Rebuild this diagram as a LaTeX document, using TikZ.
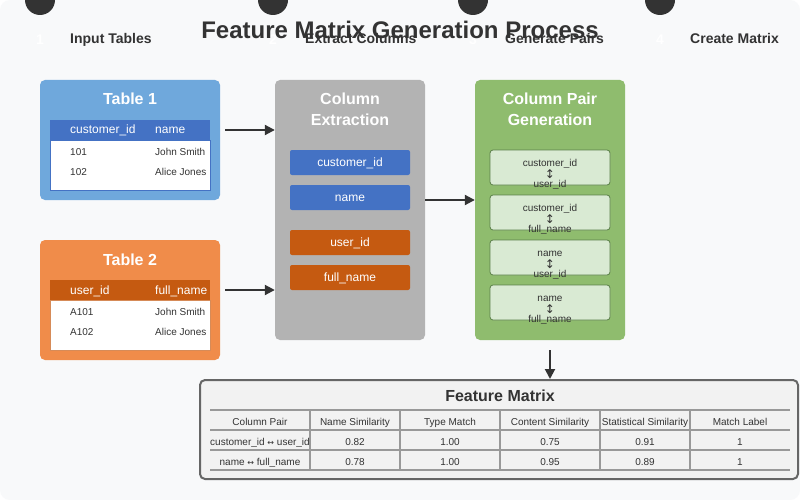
\documentclass[tikz,border=0pt]{standalone}
\usepackage{fontspec}
\setmainfont{Liberation Sans}
\newfontfamily\djv{DejaVu Sans}
\usetikzlibrary{arrows.meta}
\definecolor{bgc}{HTML}{F8F9FA}
\definecolor{dark}{HTML}{333333}
\definecolor{t1c}{HTML}{6FA8DC}
\definecolor{bluec}{HTML}{4472C4}
\definecolor{t2c}{HTML}{F08C4A}
\definecolor{orc}{HTML}{C55A11}
\definecolor{grayc}{HTML}{B3B3B3}
\definecolor{greenc}{HTML}{8FBC6E}
\definecolor{pairc}{HTML}{D9EAD3}
\definecolor{pairs}{HTML}{5B7F4A}
\definecolor{fmc}{HTML}{F2F2F2}
\definecolor{fms}{HTML}{666666}
\definecolor{gridc}{HTML}{999999}
\tikzset{
  panel/.style={draw=none, rounded corners=5pt, inner sep=0pt},
  hdrow/.style={draw=none, inner sep=0pt, minimum width=160pt, minimum height=20pt},
  bodyrect/.style={draw=bluec, line width=0.6pt, fill=white, inner sep=0pt, minimum width=160pt, minimum height=50pt},
  ttl/.style={text=white, font=\bfseries\fontsize{16}{20}\selectfont, inner sep=0pt, anchor=base},
  hdtxt/.style={text=white, font=\fontsize{12}{14}\selectfont, inner sep=0pt, anchor=base west},
  celltxt/.style={text=dark, font=\fontsize{10}{12}\selectfont, inner sep=0pt, anchor=base west},
  colbox/.style={rounded corners=2pt, inner sep=0pt, minimum width=120pt, minimum height=25pt},
  coltxt/.style={text=white, font=\fontsize{12}{14}\selectfont, inner sep=0pt, anchor=base},
  pairbox/.style={draw=pairs, line width=0.8pt, fill=pairc, rounded corners=3pt, inner sep=0pt, minimum width=120pt, minimum height=35pt},
  pairtxt/.style={text=dark, font=\fontsize{10}{12}\selectfont, inner sep=0pt, anchor=base},
  pairarr/.style={text=dark, font=\djv\fontsize{12}{14}\selectfont, inner sep=0pt, anchor=base},
  arr/.style={draw=dark, line width=2pt, -{Triangle[length=10pt,width=10pt]}},
  stepcirc/.style={circle, fill=dark, minimum size=30pt, inner sep=0pt},
  stepnum/.style={text=white, font=\bfseries\fontsize{14}{16}\selectfont, inner sep=0pt, anchor=base},
  steplbl/.style={text=dark, font=\bfseries\fontsize{14}{16}\selectfont, inner sep=0pt, anchor=base west},
  fmtxt/.style={text=dark, font=\fontsize{10}{12}\selectfont, inner sep=0pt, anchor=base},
  grid/.style={draw=gridc, line width=1.5pt}
}
\begin{document}
\begin{tikzpicture}[x=1pt, y=-1pt]
\useasboundingbox (0,0) rectangle (800,500);
\clip (0,0) rectangle (800,500);
\fill[white] (0,0) rectangle (800,500);
\fill[bgc, rounded corners=10pt] (0,0) rectangle (800,500);

% step markers
\node[stepcirc] (c1) at (40,0) {};
\node[stepcirc] (c2) at (273,0) {};
\node[stepcirc] (c3) at (473,0) {};
\node[stepcirc] (c4) at (660,0) {};
\node[stepnum] (n1) at (40,45) {1};
\node[stepnum] (n2) at (273,45) {2};
\node[stepnum] (n3) at (473,45) {3};
\node[stepnum] (n4) at (660,45) {4};
\node[steplbl] (l1) at (70,44) {Input Tables};
\node[steplbl] (l2) at (305,44) {Extract Columns};
\node[steplbl] (l3) at (505,44) {Generate Pairs};
\node[steplbl] (l4) at (690,44) {Create Matrix};

% title
\node[text=dark, font=\bfseries\fontsize{24}{28}\selectfont, inner sep=0pt, anchor=base] (title) at (400,39) {Feature Matrix Generation Process};

% Table 1
\node[panel, fill=t1c, minimum width=180pt, minimum height=120pt] (t1) at (130,140) {};
\node[ttl] (t1t) at (130,105) {Table 1};
\node[hdrow, fill=bluec] (t1h) at (130,130) {};
\node[bodyrect] (t1b) at (130,165) {};
\node[hdtxt] (t1h1) at (70,134) {customer\_id};
\node[hdtxt] (t1h2) at (155,134) {name};
\node[celltxt] (t1r1a) at (70,155) {101};
\node[celltxt] (t1r1b) at (155,155) {John Smith};
\node[celltxt] (t1r2a) at (70,175) {102};
\node[celltxt] (t1r2b) at (155,175) {Alice Jones};

% Table 2
\node[panel, fill=t2c, minimum width=180pt, minimum height=120pt] (t2) at (130,300) {};
\node[ttl] (t2t) at (130,265) {Table 2};
\node[hdrow, fill=orc] (t2h) at (130,290) {};
\node[bodyrect, draw=orc!70] (t2b) at (130,325) {};
\node[hdtxt] (t2h1) at (70,294) {user\_id};
\node[hdtxt] (t2h2) at (155,294) {full\_name};
\node[celltxt] (t2r1a) at (70,315) {A101};
\node[celltxt] (t2r1b) at (155,315) {John Smith};
\node[celltxt] (t2r2a) at (70,335) {A102};
\node[celltxt] (t2r2b) at (155,335) {Alice Jones};

% Column extraction
\node[panel, fill=grayc, minimum width=150pt, minimum height=260pt] (ext) at (350,210) {};
\node[ttl] (extt1) at (350,105) {Column};
\node[ttl] (extt2) at (350,125) {Extraction};
\node[colbox, fill=bluec] (e1) at (350,162.5) {};
\node[coltxt] at (350,166.5) {customer\_id};
\node[colbox, fill=bluec] (e2) at (350,197.5) {};
\node[coltxt] at (350,201.5) {name};
\node[colbox, fill=orc] (e3) at (350,242.5) {};
\node[coltxt] at (350,246.5) {user\_id};
\node[colbox, fill=orc] (e4) at (350,277.5) {};
\node[coltxt] at (350,281.5) {full\_name};

% Column pair generation
\node[panel, fill=greenc, minimum width=150pt, minimum height=260pt] (pg) at (550,210) {};
\node[ttl] (pgt1) at (550,105) {Column Pair};
\node[ttl] (pgt2) at (550,125) {Generation};
\node[pairbox] (p1) at (550,167.5) {};
\node[pairtxt] at (550,166) {customer\_id};
\node[pairarr] at (550,178) {↕};
\node[pairtxt] at (550,187) {user\_id};
\node[pairbox] (p2) at (550,212.5) {};
\node[pairtxt] at (550,211) {customer\_id};
\node[pairarr] at (550,223) {↕};
\node[pairtxt] at (550,232) {full\_name};
\node[pairbox] (p3) at (550,257.5) {};
\node[pairtxt] at (550,256) {name};
\node[pairarr] at (550,268) {↕};
\node[pairtxt] at (550,277) {user\_id};
\node[pairbox] (p4) at (550,302.5) {};
\node[pairtxt] at (550,301) {name};
\node[pairarr] at (550,313) {↕};
\node[pairtxt] at (550,322) {full\_name};

% Feature matrix
\node[draw=fms, line width=2pt, fill=fmc, rounded corners=5pt, inner sep=0pt, minimum width=598pt, minimum height=99pt] (fm) at (499,429.5) {};
\node[text=dark, font=\bfseries\fontsize{16}{20}\selectfont, inner sep=0pt, anchor=base] (fmt) at (500,401) {Feature Matrix};
\foreach \yy in {410,430,450,470} \draw[grid] (210,\yy) -- (790,\yy);
\foreach \xx in {310,400,500,600,690} \draw[grid] (\xx,410) -- (\xx,470);
\node[fmtxt] at (260,425) {Column Pair};
\node[fmtxt] at (355,425) {Name Similarity};
\node[fmtxt] at (450,425) {Type Match};
\node[fmtxt] at (550,425) {Content Similarity};
\node[fmtxt] at (645,425) {Statistical Similarity};
\node[fmtxt] at (740,425) {Match Label};
\node[fmtxt] at (260,445) {customer\_id {\djv\fontsize{8}{10}\selectfont ↔} user\_id};
\node[fmtxt] at (355,445) {0.82};
\node[fmtxt] at (450,445) {1.00};
\node[fmtxt] at (550,445) {0.75};
\node[fmtxt] at (645,445) {0.91};
\node[fmtxt] at (740,445) {1};
\node[fmtxt] at (260,465) {name {\djv\fontsize{8}{10}\selectfont ↔} full\_name};
\node[fmtxt] at (355,465) {0.78};
\node[fmtxt] at (450,465) {1.00};
\node[fmtxt] at (550,465) {0.95};
\node[fmtxt] at (645,465) {0.89};
\node[fmtxt] at (740,465) {1};

% connectors
\coordinate (a1) at (225,130);
\coordinate (a2) at (225,290);
\coordinate (a3) at (425,200);
\coordinate (a4) at (550,350);
\draw[arr] (a1) -- (a1 -| ext.west);
\draw[arr] (a2) -- (a2 -| ext.west);
\draw[arr] (a3) -- (a3 -| pg.west);
\draw[arr] (a4) -- (a4 |- fm.north);
\end{tikzpicture}
\end{document}
